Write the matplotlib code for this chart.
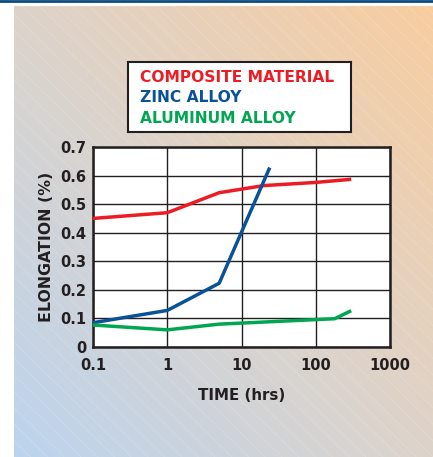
import numpy as np
import matplotlib
matplotlib.use("Agg")
import matplotlib.pyplot as plt
from matplotlib.colors import LinearSegmentedColormap

# data
composite_t = [0.1, 1, 5, 20, 100, 300]
composite_e = [0.45, 0.47, 0.54, 0.565, 0.576, 0.587]

zinc_t = [0.1, 1, 5, 24]
zinc_e = [0.085, 0.128, 0.223, 0.628]

alum_t = [0.1, 1, 5, 180, 300]
alum_e = [0.077, 0.06, 0.08, 0.099, 0.127]

legend_labels = ["COMPOSITE MATERIAL", "ZINC ALLOY", "ALUMINUM ALLOY"]
colors = ["#ED1C24", "#0A5298", "#00A651"]

xticks = [0.1, 1, 10, 100, 1000]
xtick_labels = ["0.1", "1", "10", "100", "1000"]
yticks = [0, 0.1, 0.2, 0.3, 0.4, 0.5, 0.6, 0.7]
ytick_labels = ["0", "0.1", "0.2", "0.3", "0.4", "0.5", "0.6", "0.7"]

W, H = 433, 457
fig = plt.figure(figsize=(W / 100, H / 100), dpi=100)
fig.patch.set_facecolor("white")

# gradient background panel
bg = fig.add_axes([14 / W, 0, 1 - 14 / W, 1 - 6 / H])
bg.set_axis_off()
yy, xx = np.mgrid[0:1:200j, 0:1:200j]
t = (xx + (1 - yy)) / 2.0
cmap = LinearSegmentedColormap.from_list("bg", ["#BCD3EE", "#DDD3CA", "#F8CDA0"])
bg.imshow(t, cmap=cmap, aspect="auto", extent=[0, 1, 0, 1], origin="upper")
for c in np.arange(-1.3, 1.3, 0.04):
    bg.plot([c, c + 1.1], [1, 0], color="white", lw=0.5, alpha=0.2)
bg.set_xlim(0, 1)
bg.set_ylim(0, 1)

# top rule
fig.add_artist(plt.Line2D([0, 1], [1 - 1 / H, 1 - 1 / H], color="#0B4A80", lw=2))

font = "DejaVu Sans"
ink = "#231F20"
ax = fig.add_axes([93 / W, 1 - 347 / H, 297 / W, 200 / H])
ax.set_facecolor("white")
ax.plot(composite_t, composite_e, color=colors[0], lw=2.5, solid_capstyle="butt", zorder=3)
ax.plot(zinc_t, zinc_e, color=colors[1], lw=2.5, solid_capstyle="butt", zorder=3)
ax.plot(alum_t, alum_e, color=colors[2], lw=2.5, solid_capstyle="butt", zorder=3)

ax.set_xscale("log")
ax.set_xlim(0.1, 1000)
ax.set_ylim(0, 0.7)
ax.set_xticks(xticks)
ax.set_xticklabels(xtick_labels)
ax.set_yticks(yticks)
ax.set_yticklabels(ytick_labels)
ax.minorticks_off()
ax.grid(True, color=ink, lw=1)
ax.tick_params(axis="y", length=0, pad=5)
ax.tick_params(axis="x", length=0, pad=8)
for lab in ax.get_xticklabels() + ax.get_yticklabels():
    lab.set_fontfamily(font)
    lab.set_fontweight("bold")
    lab.set_fontsize(10.5)
    lab.set_color(ink)
for s in ax.spines.values():
    s.set_color(ink)
    s.set_linewidth(1.8)

ax.set_xlabel("TIME (hrs)", family=font, weight="bold", size=10.8, color=ink, labelpad=11)
ax.set_ylabel("ELONGATION (%)", family=font, weight="bold", size=11.3, color=ink, labelpad=4)

# legend box
lg = fig.add_axes([128 / W, 1 - 132 / H, 223 / W, 70 / H])
lg.set_xticks([])
lg.set_yticks([])
lg.set_facecolor("white")
for s in lg.spines.values():
    s.set_color(ink)
    s.set_linewidth(1.5)
for i, (lab, col) in enumerate(zip(legend_labels, colors)):
    lg.text(12 / 223, 1 - (15 + 20.5 * i) / 70, lab, color=col, family=font,
            weight="bold", size=11.2, va="center", ha="left", transform=lg.transAxes)

fig.savefig("out.png", dpi=100)
